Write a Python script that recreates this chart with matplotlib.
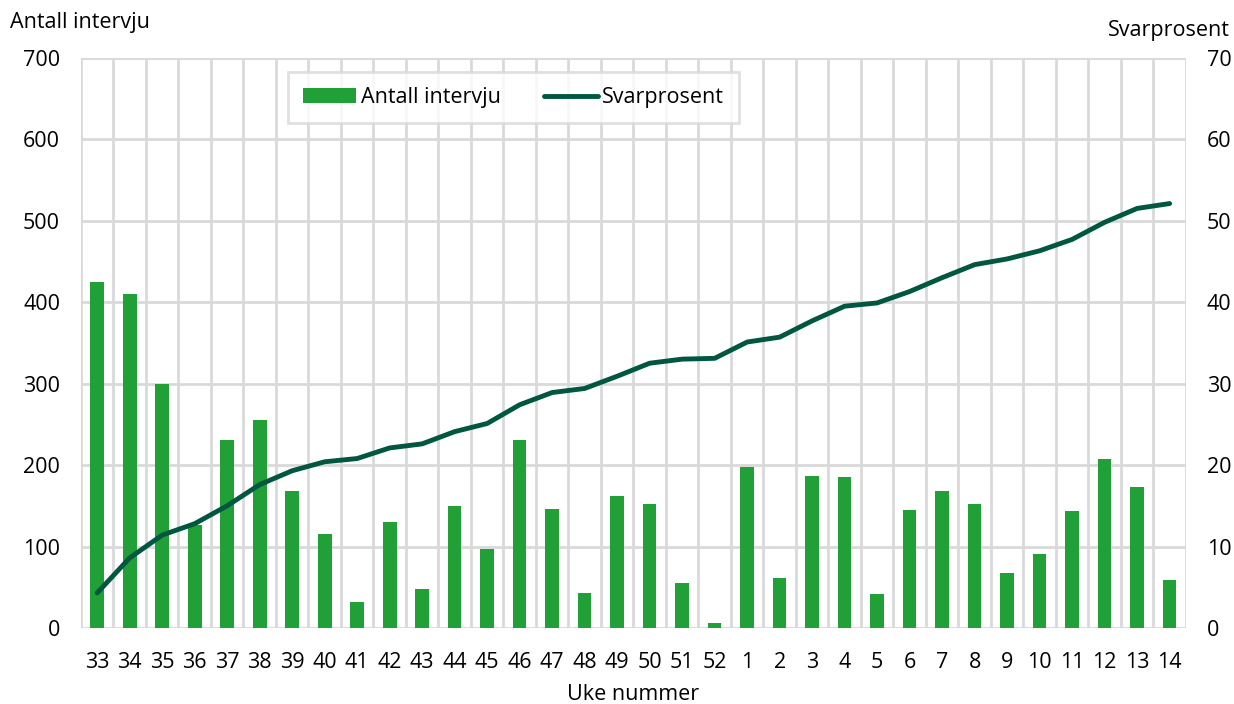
import numpy as np
import matplotlib.pyplot as plt
plt.rcParams.update({'font.size': 15.5, 'font.family': ['Open Sans', 'DejaVu Sans']})

weeks = ['33', '34', '35', '36', '37', '38', '39', '40', '41', '42', '43', '44',
         '45', '46', '47', '48', '49', '50', '51', '52', '1', '2', '3', '4',
         '5', '6', '7', '8', '9', '10', '11', '12', '13', '14']
intervjuer = [425, 410, 300, 126, 231, 255, 168, 115, 32, 130, 48, 150,
              97, 231, 146, 43, 162, 152, 55, 6, 198, 61, 187, 185,
              42, 145, 168, 152, 68, 91, 144, 207, 173, 59]
svarprosent = [4.3, 8.6, 11.4, 12.8, 15.0, 17.6, 19.3, 20.4, 20.8, 22.1, 22.6, 24.1,
               25.1, 27.4, 28.9, 29.4, 30.9, 32.5, 33.0, 33.1, 35.1, 35.7, 37.7, 39.5,
               39.9, 41.3, 43.0, 44.6, 45.3, 46.3, 47.7, 49.8, 51.5, 52.1]

bar_col = '#21a038'
line_col = '#00573f'
grid_col = '#d9d9d9'

fig = plt.figure(figsize=(12.34, 7.04), dpi=100)
ax = fig.add_axes([0.0656, 0.108, 0.8954, 0.81])
x = np.arange(len(weeks))

b = ax.bar(x, intervjuer, width=0.42, color=bar_col, zorder=3, label='Antall intervju')
ax.set_xlim(-0.5, len(weeks) - 0.5)
ax.set_ylim(0, 700)
ax.set_yticks(range(0, 701, 100))
ax.set_xticks(x)
ax.set_xticklabels(weeks)
ax.set_xticks(np.arange(-0.5, len(weeks)), minor=True)
ax.grid(True, which='minor', axis='x', color=grid_col, lw=2, zorder=0)
ax.grid(True, which='major', axis='y', color=grid_col, lw=2, zorder=0)
ax.tick_params(which='both', length=0)
ax.tick_params(axis='x', pad=17)
ax.tick_params(axis='y', pad=15)
for s in ax.spines.values():
    s.set_visible(False)

ax2 = ax.twinx()
l, = ax2.plot(x, svarprosent, color=line_col, lw=3.5, solid_capstyle='round',
              zorder=4, label='Svarprosent')
ax2.set_ylim(0, 70)
ax2.set_yticks(range(0, 71, 10))
ax2.tick_params(length=0, pad=15)
for s in ax2.spines.values():
    s.set_visible(False)

leg = ax.legend([b, l], ['Antall intervju', 'Svarprosent'], ncol=2,
                loc='upper left', bbox_to_anchor=(0.187, 0.975),
                frameon=True, fancybox=False, edgecolor=grid_col,
                handlelength=2.5, handletextpad=0.2, columnspacing=2.0,
                borderpad=0.7, borderaxespad=0, fontsize=15.5)
leg.get_frame().set_linewidth(2)
leg.set_zorder(10)

fig.text(0.008, 0.968, 'Antall intervju', ha='left', va='center')
fig.text(0.997, 0.957, 'Svarprosent', ha='right', va='center')
ax.set_xlabel('Uke nummer', labelpad=8)

fig.savefig('out.png', dpi=100)
